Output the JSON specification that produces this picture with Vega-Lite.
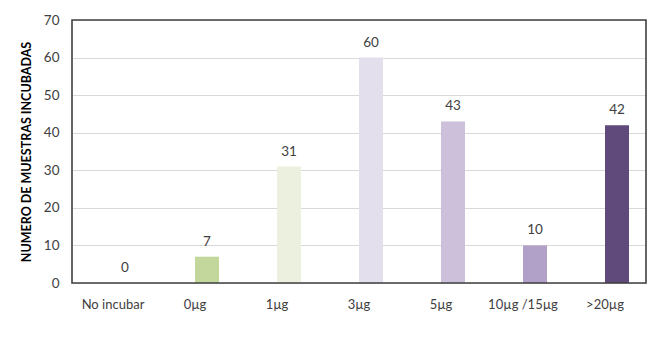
{
  "$schema": "https://vega.github.io/schema/vega-lite/v6.json",
  "width": 574,
  "height": 263,
  "autosize": {"type": "none"},
  "padding": {"left": 72, "top": 20, "right": 8, "bottom": 73},
  "background": "white",
  "config": {
    "font": "Lato",
    "view": {"stroke": null}
  },
  "data": {
    "values": [
      {"grupo": "No incubar", "muestras": 0},
      {"grupo": "0µg", "muestras": 7},
      {"grupo": "1µg", "muestras": 31},
      {"grupo": "3µg", "muestras": 60},
      {"grupo": "5µg", "muestras": 43},
      {"grupo": "10µg /15µg", "muestras": 10},
      {"grupo": ">20µg", "muestras": 42}
    ]
  },
  "layer": [
    {
      "mark": {"type": "bar", "width": 24, "xOffset": 12},
      "encoding": {
        "x": {
          "field": "grupo",
          "type": "nominal",
          "sort": null,
          "scale": {"paddingInner": 0, "paddingOuter": 0},
          "axis": {
            "title": null,
            "labelAngle": 0,
            "ticks": false,
            "domain": false,
            "labelPadding": 15,
            "labelFontSize": 13,
            "labelColor": "#404040"
          }
        },
        "y": {
          "field": "muestras",
          "type": "quantitative",
          "scale": {"domain": [0, 70]},
          "axis": {
            "title": "NUMERO DE MUESTRAS INCUBADAS",
            "titleFontSize": 12.5,
            "titleFontWeight": "bold",
            "titleColor": "#000000",
            "titlePadding": 10,
            "values": [0, 10, 20, 30, 40, 50, 60, 70],
            "labelOverlap": false,
            "ticks": false,
            "domain": false,
            "labelPadding": 13,
            "labelFontSize": 13.5,
            "labelColor": "#404040",
            "gridColor": "#d9d9d9",
            "gridWidth": 1
          }
        },
        "color": {
          "field": "grupo",
          "type": "nominal",
          "legend": null,
          "scale": {
            "domain": ["No incubar", "0µg", "1µg", "3µg", "5µg", "10µg /15µg", ">20µg"],
            "range": ["#ffffff", "#c3d69b", "#ebf1de", "#e4dfec", "#ccc0da", "#b1a0c7", "#604a7b"]
          }
        }
      }
    },
    {
      "mark": {"type": "text", "xOffset": 12, "dy": -8, "baseline": "bottom", "fontSize": 13.5, "color": "#404040"},
      "encoding": {
        "x": {
          "field": "grupo",
          "type": "nominal",
          "sort": null,
          "axis": {
            "title": null,
            "labelAngle": 0,
            "ticks": false,
            "domain": false,
            "labelPadding": 15,
            "labelFontSize": 13,
            "labelColor": "#404040"
          }
        },
        "y": {
          "field": "muestras",
          "type": "quantitative",
          "axis": {
            "title": "NUMERO DE MUESTRAS INCUBADAS",
            "titleFontSize": 12.5,
            "titleFontWeight": "bold",
            "titleColor": "#000000",
            "titlePadding": 10,
            "values": [0, 10, 20, 30, 40, 50, 60, 70],
            "labelOverlap": false,
            "ticks": false,
            "domain": false,
            "labelPadding": 13,
            "labelFontSize": 13.5,
            "labelColor": "#404040",
            "gridColor": "#d9d9d9",
            "gridWidth": 1
          }
        },
        "text": {"field": "muestras", "type": "quantitative"}
      }
    },
    {
      "data": {"values": [{"marco": "plot"}]},
      "mark": {"type": "rect", "fill": "transparent", "stroke": "#404040", "strokeWidth": 1.6},
      "encoding": {}
    }
  ]
}
